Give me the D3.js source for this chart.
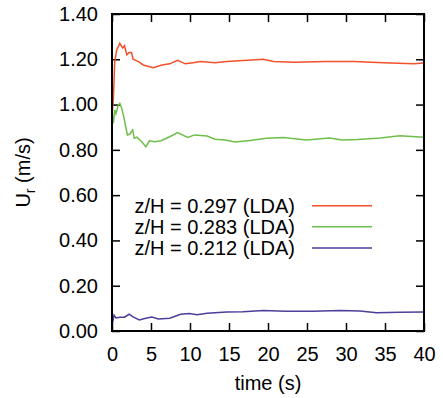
<!DOCTYPE html>
<html>
<head>
<meta charset="utf-8">
<script src="https://cdn.jsdelivr.net/npm/d3@7"></script>
<style>
  body { margin: 0; background: #fff; }
  svg text { font-family: "Liberation Sans", Arial, sans-serif; fill: #000; }
</style>
</head>
<body>
<div id="chart"></div>
<script>
// series: [time (s), Ur (m/s)]
const red297 = [[0.05,0.97],[0.17,1.02],[0.35,1.19],[0.6,1.24],[1.0,1.27],[1.37,1.25],[1.6,1.26],[1.9,1.22],[2.2,1.23],[2.5,1.23],[2.7,1.20],[3.4,1.19],[4.0,1.175],[5.3,1.163],[6.4,1.175],[7.4,1.18],[8.4,1.195],[9.4,1.18],[10.4,1.185],[11.3,1.19],[13.2,1.185],[14.7,1.19],[16.8,1.195],[19.4,1.2],[20.7,1.19],[23.3,1.187],[27.5,1.19],[31,1.19],[34.8,1.185],[38.7,1.18],[40,1.184]];
const green283 = [[0.05,0.95],[0.17,0.917],[0.35,0.976],[0.5,0.96],[0.8,0.998],[1.0,1.005],[1.25,0.984],[1.54,0.94],[1.97,0.866],[2.3,0.87],[2.65,0.888],[2.85,0.851],[3.2,0.856],[3.8,0.836],[4.35,0.814],[4.8,0.84],[5.5,0.836],[6.3,0.84],[7.4,0.858],[8.4,0.876],[9.7,0.855],[10.6,0.866],[12.2,0.861],[13.2,0.847],[14.5,0.844],[15.8,0.835],[17.7,0.841],[19.8,0.851],[22,0.855],[24.9,0.844],[27.9,0.852],[29.5,0.844],[31.5,0.846],[34.4,0.852],[36.9,0.862],[40,0.856]];
const blue212 = [[0.08,0.037],[0.26,0.07],[0.5,0.058],[1.0,0.061],[1.6,0.061],[2.2,0.074],[2.7,0.062],[3.5,0.049],[4.2,0.055],[5.1,0.062],[5.95,0.053],[7.4,0.056],[8.8,0.074],[9.9,0.077],[10.9,0.072],[12.2,0.078],[14.7,0.084],[16.8,0.085],[19.4,0.09],[22.3,0.087],[25.7,0.087],[29.2,0.091],[31.8,0.088],[33.9,0.081],[36.9,0.083],[40,0.084]];

const seriesNames = ["z/H = 0.297 (LDA)", "z/H = 0.283 (LDA)", "z/H = 0.212 (LDA)"];
const seriesData = [red297, green283, blue212];
const colors = ["#f4512a", "#6dbf4a", "#4a3f9a"];
const xTicks = [0, 5, 10, 15, 20, 25, 30, 35, 40];
const yTicks = [0, 0.2, 0.4, 0.6, 0.8, 1.0, 1.2, 1.4];

const width = 443, height = 398;
const margin = { top: 14, right: 19, bottom: 67, left: 112 };

const svg = d3.select("#chart").append("svg")
  .attr("width", width)
  .attr("height", height);

const x = d3.scaleLinear().domain([0, 40]).range([margin.left, width - margin.right]);
const y = d3.scaleLinear().domain([0, 1.4]).range([height - margin.bottom, margin.top]);

// ticks on all four sides, pointing inward
const tickLen = 8;
svg.append("g")
  .attr("transform", `translate(0,${height - margin.bottom})`)
  .call(d3.axisBottom(x).tickValues(xTicks).tickSize(-tickLen).tickPadding(16).tickFormat(d3.format("d")))
  .call(g => g.select(".domain").remove())
  .call(g => g.selectAll("text").attr("font-size", 20));
svg.append("g")
  .attr("transform", `translate(0,${margin.top})`)
  .call(d3.axisTop(x).tickValues(xTicks).tickSize(-tickLen).tickFormat(""))
  .call(g => g.select(".domain").remove());
svg.append("g")
  .attr("transform", `translate(${margin.left},0)`)
  .call(d3.axisLeft(y).tickValues(yTicks).tickSize(-tickLen).tickPadding(14).tickFormat(d3.format(".2f")))
  .call(g => g.select(".domain").remove())
  .call(g => g.selectAll("text").attr("font-size", 20));
svg.append("g")
  .attr("transform", `translate(${width - margin.right},0)`)
  .call(d3.axisRight(y).tickValues(yTicks).tickSize(-tickLen).tickFormat(""))
  .call(g => g.select(".domain").remove());
svg.selectAll(".tick line").attr("stroke", "#000").attr("stroke-width", 1.5);

// legend
const legY = [205.7, 226.7, 248];
const leg = svg.append("g");
seriesNames.forEach((name, i) => {
  leg.append("text")
    .attr("x", 295).attr("y", legY[i]).attr("dy", "0.35em")
    .attr("text-anchor", "end").attr("font-size", 20).text(name);
  leg.append("line")
    .attr("x1", 312).attr("x2", 372).attr("y1", legY[i]).attr("y2", legY[i])
    .attr("stroke", colors[i]).attr("stroke-width", 1.5);
});

// lines
const line = d3.line().x(d => x(d[0])).y(d => y(d[1]));
seriesData.forEach((data, i) => {
  svg.append("path")
    .datum(data)
    .attr("fill", "none")
    .attr("stroke", colors[i])
    .attr("stroke-width", 1.5)
    .attr("d", line);
});

// frame
svg.append("rect")
  .attr("x", margin.left).attr("y", margin.top)
  .attr("width", width - margin.left - margin.right)
  .attr("height", height - margin.top - margin.bottom)
  .attr("fill", "none").attr("stroke", "#000").attr("stroke-width", 2);

// axis labels
svg.append("text")
  .attr("x", (margin.left + width - margin.right) / 2).attr("y", 390)
  .attr("text-anchor", "middle").attr("font-size", 20).text("time (s)");
const yl = svg.append("text")
  .attr("transform", `translate(30,${(margin.top + height - margin.bottom) / 2}) rotate(-90)`)
  .attr("text-anchor", "middle").attr("font-size", 20);
yl.append("tspan").text("U");
yl.append("tspan").attr("font-size", 14).attr("dy", 5).text("r");
yl.append("tspan").attr("dy", -5).text(" (m/s)");
</script>
</body>
</html>
